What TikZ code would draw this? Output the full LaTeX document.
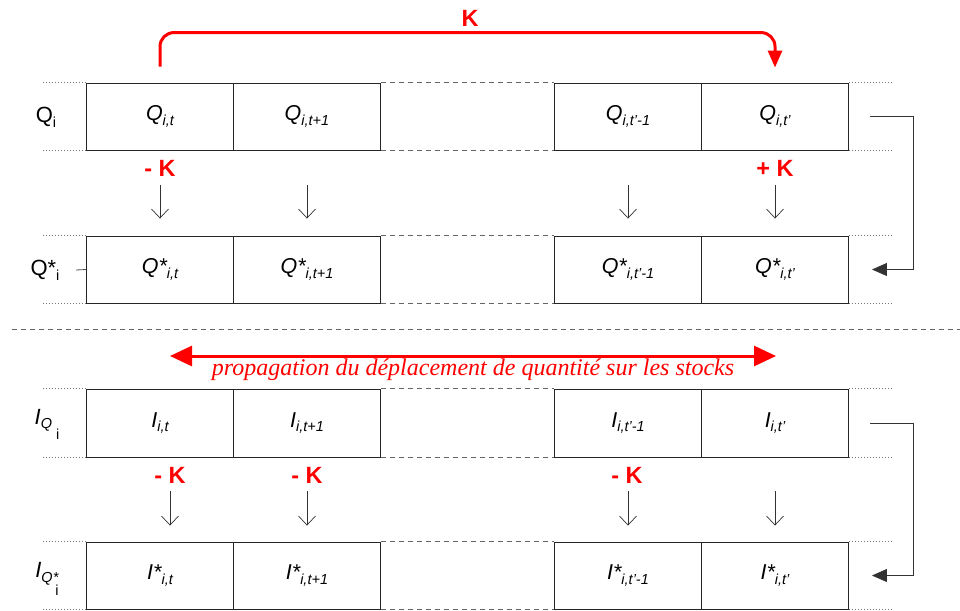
\documentclass[tikz,border=0pt]{standalone}
\usepackage{fontspec}
\setmainfont{Liberation Sans}
\newfontfamily\timesf{Liberation Serif}
\usetikzlibrary{arrows.meta}
\newcommand{\sbx}[1]{\raisebox{-0.4ex}{\fontsize{14.5}{14.5}\selectfont #1}}
\definecolor{pred}{RGB}{255,0,0}
\begin{document}
\begin{tikzpicture}[x=1pt,y=-1pt,
 cell/.style={draw=black!85, line width=0.9pt, minimum width=147pt, minimum height=67pt, inner sep=0pt, font=\fontsize{21.5}{21.5}\selectfont\itshape},
 downarr/.style={-{Straight Barb[length=9pt,width=17pt]}, line width=0.7pt, black!80},
 kl/.style={text=pred, font=\fontsize{23.5}{23.5}\selectfont\bfseries, inner sep=0pt},
 dotl/.style={black!55, dotted, line width=1pt},
 dashl/.style={black!60, line width=0.8pt, dash pattern=on 5pt off 4pt},
 conn/.style={-{Triangle[length=15pt,width=13pt]}, line width=0.8pt, black!80},
 lbl/.style={font=\fontsize{22}{22}\selectfont, inner sep=0pt},
 redarr/.style={pred, line width=3pt}
]
\useasboundingbox (0,0) rectangle (960,610);

% Q row
\node[cell] (q1) at (160,116.5) {Q\sbx{i,t}};
\node[cell] (q2) at (307,116.5) {Q\sbx{i,t+1}};
\node[cell] (q3) at (628,116.5) {Q\sbx{i,t'-1}};
\node[cell] (q4) at (775,116.5) {Q\sbx{i,t'}};
% Q* row
\node[cell] (qs1) at (160,269.5) {Q*\sbx{i,t}};
\node[cell] (qs2) at (307,269.5) {Q*\sbx{i,t+1}};
\node[cell] (qs3) at (628,269.5) {Q*\sbx{i,t'-1}};
\node[cell] (qs4) at (775,269.5) {Q*\sbx{i,t'}};
% I row
\node[cell, minimum height=68pt] (i1) at (160,423) {I\sbx{i,t}};
\node[cell, minimum height=68pt] (i2) at (307,423) {I\sbx{i,t+1}};
\node[cell, minimum height=68pt] (i3) at (628,423) {I\sbx{i,t'-1}};
\node[cell, minimum height=68pt] (i4) at (775,423) {I\sbx{i,t'}};
% I* row
\node[cell] (is1) at (160,575.5) {I*\sbx{i,t}};
\node[cell] (is2) at (307,575.5) {I*\sbx{i,t+1}};
\node[cell] (is3) at (628,575.5) {I*\sbx{i,t'-1}};
\node[cell] (is4) at (775,575.5) {I*\sbx{i,t'}};

% side lines
\foreach \a/\b/\c/\d in {q1/q2/q3/q4, qs1/qs2/qs3/qs4, i1/i2/i3/i4, is1/is2/is3/is4}{
  \draw[dotl] ([xshift=-43pt]\a.north west) -- (\a.north west);
  \draw[dotl] ([xshift=-43pt]\a.south west) -- (\a.south west);
  \draw[dotl] (\d.north east) -- ([xshift=43pt]\d.north east);
  \draw[dotl] (\d.south east) -- ([xshift=43pt]\d.south east);
  \draw[dashl] (\b.north east) -- (\c.north west);
  \draw[dashl] (\b.south east) -- (\c.south west);
}

% left labels
\node[lbl] (lq) at (46,117) {Q\sbx{i}};
\node[lbl] (lqs) at (45,270) {Q*\sbx{i}};
\draw[black!70, line width=0.8pt] (76,270) -- (qs1.west);
\node[lbl, font=\fontsize{22}{22}\selectfont\itshape] (li) at (47,424)
  {I\sbx{Q}\hspace{4pt}\raisebox{-1.3ex}{\fontsize{14.5}{14.5}\selectfont\upshape i}};
\node[lbl, font=\fontsize{22}{22}\selectfont\itshape] (lis) at (47,579)
  {I\sbx{Q*}\hspace{-3pt}\raisebox{-1.5ex}{\fontsize{14.5}{14.5}\selectfont\upshape i}};

% down arrows Q
\foreach \a/\b in {q1/qs1, q2/qs2, q3/qs3, q4/qs4}{
  \draw[downarr] ([yshift=-35pt]\a.south) -- ([yshift=17pt]\b.north);
}
% down arrows I
\draw[downarr] ([xshift=10pt,yshift=-34pt]i1.south) -- ([xshift=10pt,yshift=16pt]is1.north);
\foreach \a/\b in {i2/is2, i3/is3, i4/is4}{
  \draw[downarr] ([yshift=-34pt]\a.south) -- ([yshift=16pt]\b.north);
}

% K labels
\node[kl] (k1) at (160,168) {- K};
\node[kl] (k2) at (775,168) {+ K};
\node[kl] (k3) at (170,475) {- K};
\node[kl] (k4) at (307,475) {- K};
\node[kl] (k5) at (627,475) {- K};

% top red arrow
\draw[redarr, rounded corners=14pt, -{Triangle[length=17pt,width=14pt]}]
  ([yshift=16pt]q1.north) -- ++(0,-34) -| ([yshift=15pt]q4.north);
\node[kl] (ktop) at (470,18) {K};

% right connectors
\coordinate (r1) at ([xshift=21pt]q4.east);
\coordinate (r2) at ([xshift=23pt]qs4.east);
\coordinate (r3) at ([xshift=21pt]i4.east);
\coordinate (r4) at ([xshift=23pt]is4.east);
\draw[conn] (r1) -- ++(43,0) |- (r2);
\draw[conn] (r3) -- ++(43,0) |- (r4);

% separator
\coordinate (s1) at (12,329);
\coordinate (s2) at (960,329);
\draw[dashl] (s1) -- (s2);

% propagation arrow
\coordinate (p1) at (170,356);
\coordinate (p2) at (776,356);
\draw[redarr, {Triangle[length=22pt,width=20pt]}-{Triangle[length=22pt,width=20pt]}] (p1) -- (p2);
\node[text=pred, font=\timesf\itshape\fontsize{24}{24}\selectfont, inner sep=0pt, anchor=base] (prop) at (473,375)
  {propagation du déplacement de quantité sur les stocks};
\end{tikzpicture}
\end{document}
